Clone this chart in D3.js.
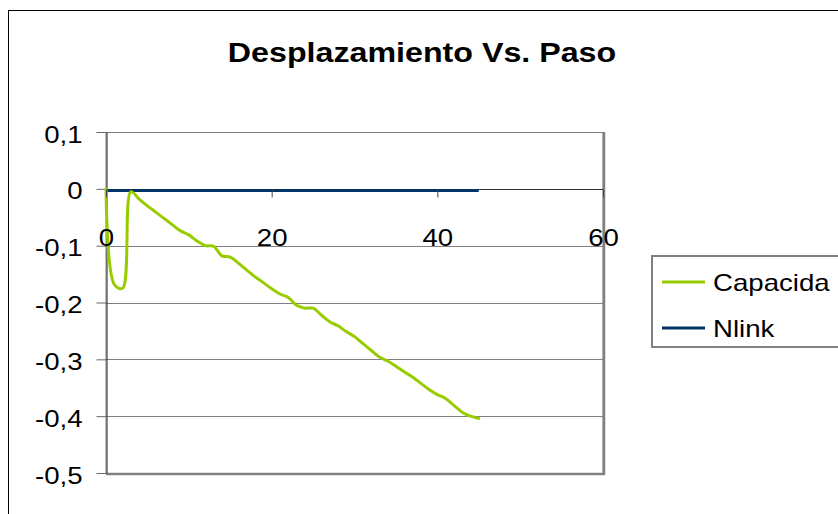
<!doctype html>
<html>
<head>
<meta charset="utf-8">
<script src="https://d3js.org/d3.v7.min.js"></script>
<style>
  body{margin:0;background:white;}
  svg{display:block;background:white;font-family:Arial,"Liberation Sans",sans-serif;}
</style>
</head>
<body>
<svg width="838" height="514"></svg>
<script>
// datos
const paso = [0,1,2,3,4,5,6,7,8,9,10,11,12,13,14,15,16,17,18,19,20,21,22,23,24,25,26,27,28,29,30,31,32,33,34,35,36,37,38,39,40,41,42,43,44,45];
const capacidad = [0,-0.168,-0.175,-0.005,-0.018,-0.03,-0.041,-0.052,-0.063,-0.074,-0.081,-0.092,-0.1,-0.101,-0.118,-0.12,
  -0.131,-0.143,-0.155,-0.165,-0.176,-0.185,-0.191,-0.205,-0.21,-0.21,-0.222,-0.234,-0.241,-0.251,-0.26,-0.272,-0.284,
  -0.296,-0.303,-0.312,-0.322,-0.331,-0.342,-0.353,-0.362,-0.369,-0.381,-0.393,-0.4,-0.404];
const nlink = [-0.003,-0.003,-0.003,-0.003,-0.003,-0.003,-0.003,-0.003,-0.003,-0.003,-0.003,-0.003,-0.003,-0.003,-0.003,-0.003,
  -0.003,-0.003,-0.003,-0.003,-0.003,-0.003,-0.003,-0.003,-0.003,-0.003,-0.003,-0.003,-0.003,-0.003,-0.003,-0.003,-0.003,
  -0.003,-0.003,-0.003,-0.003,-0.003,-0.003,-0.003,-0.003,-0.003,-0.003,-0.003,-0.003,-0.003];
const xTicks = [0,20,40,60];
const yTicks = [0.1,0,-0.1,-0.2,-0.3,-0.4,-0.5];
const yTickLabels = ["0,1","0","-0,1","-0,2","-0,3","-0,4","-0,5"];
const seriesNames = ["Capacida","Nlink"];

const colors = ["#99cc00","#003366"];
const STRETCH = 1.15; // el original esta estirado a lo ancho

const svg = d3.select("svg");
const x = d3.scaleLinear().domain([0,60]).range([106,603]);
const y = d3.scaleLinear().domain([-0.5,0.1]).range([473,132]);

function stretch(sel){
  sel.each(function(){
    const w = this.getComputedTextLength();
    d3.select(this).attr("textLength", w*STRETCH).attr("lengthAdjust","spacingAndGlyphs");
  });
}

// marco exterior
svg.append("rect").attr("x",8.5).attr("y",10.5).attr("width",900).attr("height",600)
  .attr("fill","white").attr("stroke","#000").attr("stroke-width",1);

// titulo
svg.append("text").attr("x",422).attr("y",62)
  .attr("text-anchor","middle").style("font-size","28px").style("font-weight","bold")
  .text("Desplazamiento Vs. Paso").call(stretch);

// area de trazado
svg.append("rect").attr("x",x(0)).attr("y",y(0.1)+0.5)
  .attr("width",x(60)-x(0)).attr("height",y(-0.5)-y(0.1))
  .attr("fill","white").attr("stroke","#808080").attr("stroke-width",1);

svg.append("g").selectAll("line").data(yTicks).enter().append("line")
  .attr("x1",x(0)).attr("x2",x(60))
  .attr("y1",d => Math.round(y(d))+0.5).attr("y2",d => Math.round(y(d))+0.5)
  .attr("stroke","#808080").attr("stroke-width",1);

// borde derecho e inferior mas grueso
svg.append("line").attr("x1",x(60)+1).attr("x2",x(60)+1).attr("y1",y(0.1)).attr("y2",y(-0.5)+1.5)
  .attr("stroke","#808080").attr("stroke-width",2.5);
svg.append("line").attr("x1",x(0)).attr("x2",x(60)+2).attr("y1",y(-0.5)+1).attr("y2",y(-0.5)+1)
  .attr("stroke","#808080").attr("stroke-width",2.5);

// linea del eje x
svg.append("line").attr("x1",x(0)).attr("x2",x(60))
  .attr("y1",Math.round(y(0))+0.5).attr("y2",Math.round(y(0))+0.5)
  .attr("stroke","#333").attr("stroke-width",1);

// eje y
const yAxis = svg.append("g").attr("transform","translate(" + (x(0)+0.5) + ",0)")
  .call(d3.axisLeft(y).tickValues(yTicks).tickSize(10).tickSizeOuter(0).tickPadding(14)
    .tickFormat((d,i) => yTickLabels[i]));
yAxis.select(".domain").attr("stroke","#222");
yAxis.selectAll(".tick line").attr("stroke","#666");
yAxis.selectAll("text").style("font-size","24px").attr("fill","#000").attr("dy","0.42em").call(stretch);

// series
const line = d3.line().x((d,i) => x(paso[i])).y(d => y(d)).curve(d3.curveCatmullRom.alpha(0.5));
svg.append("path").datum(nlink).attr("d",line)
  .attr("fill","none").attr("stroke",colors[1]).attr("stroke-width",3);
svg.append("path").datum(capacidad).attr("d",line)
  .attr("fill","none").attr("stroke",colors[0]).attr("stroke-width",3)
  .attr("stroke-linejoin","round").attr("stroke-linecap","round");

// eje x (marcas y etiquetas encima)
const xAxis = svg.append("g").attr("transform","translate(0," + (Math.round(y(0))+0.5) + ")")
  .call(d3.axisBottom(x).tickValues(xTicks).tickSize(8).tickSizeOuter(0).tickPadding(31));
xAxis.select(".domain").remove();
xAxis.selectAll(".tick line").attr("stroke","#444");
xAxis.selectAll("text").style("font-size","24px").attr("fill","#000").call(stretch);

// leyenda
const leg = svg.append("g");
leg.append("rect").attr("x",652).attr("y",256).attr("width",300).attr("height",91)
  .attr("fill","white").attr("stroke","#808080").attr("stroke-width",2);
const item = leg.selectAll("g.item").data(seriesNames).enter().append("g")
  .attr("class","item").attr("transform",(d,i) => "translate(0," + (282 + i*46) + ")");
item.append("line").attr("x1",662).attr("x2",705).attr("y1",0).attr("y2",0)
  .attr("stroke",(d,i) => colors[i]).attr("stroke-width",3);
item.append("text").attr("x",713).attr("y",9).style("font-size","24px")
  .text(d => d).call(stretch);
</script>
</body>
</html>
